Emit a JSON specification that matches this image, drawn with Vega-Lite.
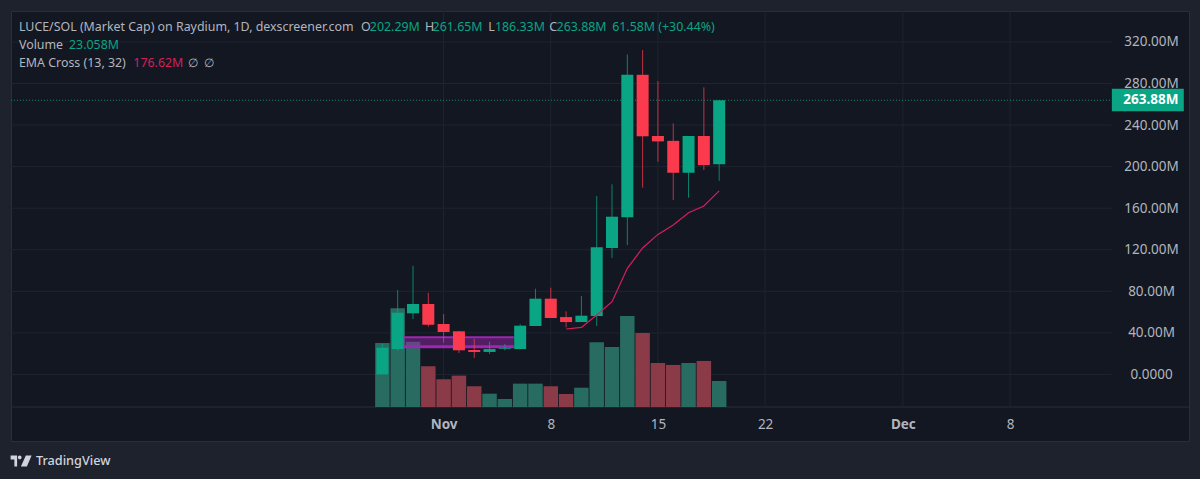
{
  "$schema": "https://vega.github.io/schema/vega-lite/v6.json",
  "width": 1178,
  "height": 430,
  "autosize": {"type": "none"},
  "padding": {"left": 11, "top": 11, "right": 11, "bottom": 38},
  "background": "#1e222d",
  "config": {
    "view": {"fill": "#131722", "stroke": "#2a2e39"},
    "text": {"font": "Noto Sans"}
  },
  "datasets": {
    "candles": [
      {"date": "2024-10-28", "open": 0, "high": 29.3, "low": 0, "close": 25.7, "volume": 56.8, "kind": "up"},
      {"date": "2024-10-29", "open": 24.4, "high": 81.2, "low": 22.5, "close": 59.4, "volume": 87.5, "kind": "up"},
      {"date": "2024-10-30", "open": 58.8, "high": 104.6, "low": 53.3, "close": 67.8, "volume": 57.9, "kind": "up"},
      {"date": "2024-10-31", "open": 67.8, "high": 78.6, "low": 45.9, "close": 47.8, "volume": 36.1, "kind": "down"},
      {"date": "2024-11-01", "open": 48.5, "high": 58.1, "low": 30.5, "close": 40.8, "volume": 24.6, "kind": "down"},
      {"date": "2024-11-02", "open": 41.5, "high": 41.8, "low": 20.6, "close": 23.2, "volume": 27.8, "kind": "down"},
      {"date": "2024-11-03", "open": 23.5, "high": 34.1, "low": 15.8, "close": 21.6, "volume": 18.4, "kind": "down"},
      {"date": "2024-11-04", "open": 21.6, "high": 31.5, "low": 19.6, "close": 24.4, "volume": 11.8, "kind": "up"},
      {"date": "2024-11-05", "open": 24.4, "high": 29.3, "low": 23.2, "close": 25.1, "volume": 7.1, "kind": "up"},
      {"date": "2024-11-06", "open": 24.4, "high": 48.2, "low": 24.4, "close": 46.9, "volume": 20.7, "kind": "up"},
      {"date": "2024-11-07", "open": 46.6, "high": 82.5, "low": 46.6, "close": 72.9, "volume": 20.7, "kind": "up"},
      {"date": "2024-11-08", "open": 72.9, "high": 83.4, "low": 54.3, "close": 54.3, "volume": 18.4, "kind": "down"},
      {"date": "2024-11-09", "open": 55.2, "high": 60.7, "low": 45.3, "close": 50.4, "volume": 11.5, "kind": "down"},
      {"date": "2024-11-10", "open": 50.4, "high": 75.5, "low": 50.4, "close": 56.5, "volume": 17.1, "kind": "up"},
      {"date": "2024-11-11", "open": 56.2, "high": 171.7, "low": 46.6, "close": 122.3, "volume": 57.4, "kind": "up"},
      {"date": "2024-11-12", "open": 121.7, "high": 183, "low": 112, "close": 151.8, "volume": 53.2, "kind": "up"},
      {"date": "2024-11-13", "open": 151.2, "high": 308, "low": 124.5, "close": 288.4, "volume": 80.7, "kind": "up"},
      {"date": "2024-11-14", "open": 288.4, "high": 312.2, "low": 179.7, "close": 229.2, "volume": 65.6, "kind": "down"},
      {"date": "2024-11-15", "open": 229.5, "high": 282.4, "low": 204.7, "close": 224.3, "volume": 39, "kind": "down"},
      {"date": "2024-11-16", "open": 224.8, "high": 241.7, "low": 167.9, "close": 194.1, "volume": 37.3, "kind": "down"},
      {"date": "2024-11-17", "open": 194.1, "high": 229.5, "low": 170.1, "close": 229.5, "volume": 39, "kind": "up"},
      {"date": "2024-11-18", "open": 229.5, "high": 276.3, "low": 196.7, "close": 201.5, "volume": 40.8, "kind": "down"},
      {"date": "2024-11-19", "open": 202.29, "high": 263.88, "low": 186.33, "close": 263.88, "volume": 23.058, "kind": "up"}
    ],
    "ema": [
      {"date": "2024-11-09", "value": 43.7},
      {"date": "2024-11-10", "value": 45.3},
      {"date": "2024-11-11", "value": 57.2},
      {"date": "2024-11-12", "value": 70},
      {"date": "2024-11-13", "value": 102.1},
      {"date": "2024-11-14", "value": 121.7},
      {"date": "2024-11-15", "value": 134.8},
      {"date": "2024-11-16", "value": 143.8},
      {"date": "2024-11-17", "value": 155.6},
      {"date": "2024-11-18", "value": 162.1},
      {"date": "2024-11-19", "value": 176.62}
    ],
    "hgrid": [
      {"date": "2024-10-03T17:46:00Z", "end": "2024-12-14T15:36:00Z", "value": 0},
      {"date": "2024-10-03T17:46:00Z", "end": "2024-12-14T15:36:00Z", "value": 40},
      {"date": "2024-10-03T17:46:00Z", "end": "2024-12-14T15:36:00Z", "value": 80},
      {"date": "2024-10-03T17:46:00Z", "end": "2024-12-14T15:36:00Z", "value": 120},
      {"date": "2024-10-03T17:46:00Z", "end": "2024-12-14T15:36:00Z", "value": 160},
      {"date": "2024-10-03T17:46:00Z", "end": "2024-12-14T15:36:00Z", "value": 200},
      {"date": "2024-10-03T17:46:00Z", "end": "2024-12-14T15:36:00Z", "value": 240},
      {"date": "2024-10-03T17:46:00Z", "end": "2024-12-14T15:36:00Z", "value": 280},
      {"date": "2024-10-03T17:46:00Z", "end": "2024-12-14T15:36:00Z", "value": 320}
    ],
    "vgrid": [
      {"date": "2024-11-01", "bottom": -31.4, "top": 349.8},
      {"date": "2024-11-08", "bottom": -31.4, "top": 349.8},
      {"date": "2024-11-15", "bottom": -31.4, "top": 349.8},
      {"date": "2024-11-22", "bottom": -31.4, "top": 349.8},
      {"date": "2024-12-01", "bottom": -31.4, "top": 349.8},
      {"date": "2024-12-08", "bottom": -31.4, "top": 349.8}
    ],
    "separator": [
      {"date": "2024-10-03T17:46:00Z", "end": "2024-12-19T16:34:00Z", "value": -31.4}
    ],
    "band": [
      {"date": "2024-10-29T09:50:00Z", "end": "2024-11-05T14:10:00Z", "top": 35.7, "bottom": 26.7}
    ],
    "lastPrice": [
      {"date": "2024-10-03T17:46:00Z", "end": "2024-12-14T15:36:00Z", "value": 263.88}
    ],
    "priceTag": [
      {"date": "2024-12-14T15:36:00Z", "end": "2024-12-19T08:24:00Z", "top": 275, "bottom": 253.2}
    ],
    "priceTagText": [
      {"date": "2024-12-17T04:48:00Z", "value": 263.88, "text": "263.88M"}
    ],
    "header": [
      {"date": "2024-10-04T06:14:00Z", "value": 334.4, "kind": "label", "text": "LUCE/SOL (Market Cap) on Raydium, 1D, dexscreener.com"},
      {"date": "2024-10-26T14:24:00Z", "value": 334.4, "kind": "label", "text": "O"},
      {"date": "2024-10-27T04:19:00Z", "value": 334.4, "kind": "up", "text": "202.29M"},
      {"date": "2024-10-30T18:43:00Z", "value": 334.4, "kind": "label", "text": "H"},
      {"date": "2024-10-31T06:43:00Z", "value": 334.4, "kind": "up", "text": "261.65M"},
      {"date": "2024-11-03T21:50:00Z", "value": 334.4, "kind": "label", "text": "L"},
      {"date": "2024-11-04T08:24:00Z", "value": 334.4, "kind": "up", "text": "186.33M"},
      {"date": "2024-11-07T21:36:00Z", "value": 334.4, "kind": "label", "text": "C"},
      {"date": "2024-11-08T09:07:00Z", "value": 334.4, "kind": "up", "text": "263.88M"},
      {"date": "2024-11-12T00:14:00Z", "value": 334.4, "kind": "up", "text": "61.58M (+30.44%)"},
      {"date": "2024-10-04T06:14:00Z", "value": 316.9, "kind": "label", "text": "Volume"},
      {"date": "2024-10-07T12:43:00Z", "value": 316.9, "kind": "up", "text": "23.058M"},
      {"date": "2024-10-04T06:14:00Z", "value": 299.6, "kind": "label", "text": "EMA Cross (13, 32)"},
      {"date": "2024-10-11T17:31:00Z", "value": 299.6, "kind": "ema", "text": "176.62M"},
      {"date": "2024-10-15T07:41:00Z", "value": 299.6, "kind": "label", "text": "∅"},
      {"date": "2024-10-16T08:10:00Z", "value": 299.6, "kind": "label", "text": "∅"}
    ],
    "brand": [
      {"date": "2024-10-05T08:53:00Z", "value": -83.3, "text": "TradingView"}
    ],
    "brandLogo": [
      {"date": "2024-10-04T09:36:00Z", "value": -83.3}
    ]
  },
  "encoding": {
    "x": {
      "field": "date",
      "type": "temporal",
      "scale": {
        "type": "utc",
        "nice": false,
        "padding": 0,
        "domain": [
          {"year": 2024, "month": 10, "date": 3, "hours": 17, "minutes": 46, "utc": true},
          {"year": 2024, "month": 12, "date": 19, "hours": 16, "minutes": 34, "utc": true}
        ]
      },
      "axis": {
        "title": null,
        "orient": "bottom",
        "grid": false,
        "domain": false,
        "ticks": false,
        "labelPadding": -17,
        "labelBaseline": "middle",
        "labelColor": "#b2b5be",
        "labelFont": "Noto Sans",
        "labelFontSize": 13.5,
        "labelFontWeight": {"condition": {"test": "utcdate(datum.value) === 1", "value": "bold"}, "value": "normal"},
        "labelFlush": false,
        "labelOverlap": false,
        "values": [
          {"year": 2024, "month": 11, "date": 1, "utc": true},
          {"year": 2024, "month": 11, "date": 8, "utc": true},
          {"year": 2024, "month": 11, "date": 15, "utc": true},
          {"year": 2024, "month": 11, "date": 22, "utc": true},
          {"year": 2024, "month": 12, "date": 1, "utc": true},
          {"year": 2024, "month": 12, "date": 8, "utc": true}
        ],
        "labelExpr": "utcdate(datum.value) === 1 ? utcFormat(datum.value, '%b') : utcFormat(datum.value, '%-d')"
      }
    }
  },
  "resolve": {"scale": {"y": "independent", "color": "independent"}},
  "layer": [
    {
      "layer": [
        {
          "data": {"name": "hgrid"},
          "mark": {"type": "rule", "color": "#1f2430", "strokeWidth": 1},
          "encoding": {
            "x2": {"field": "end"},
            "y": {"field": "value", "type": "quantitative", "scale": {"domain": [-64.1, 349.8], "nice": false, "zero": false}, "axis": null}
          }
        },
        {
          "data": {"name": "vgrid"},
          "mark": {"type": "rule", "color": "#1f2430", "strokeWidth": 1},
          "encoding": {
            "y": {"field": "bottom", "type": "quantitative"},
            "y2": {"field": "top"}
          }
        },
        {
          "data": {"name": "separator"},
          "mark": {"type": "rule", "color": "#2a2e39", "strokeWidth": 1},
          "encoding": {
            "x2": {"field": "end"},
            "y": {"field": "value", "type": "quantitative"}
          }
        }
      ]
    },
    {
      "data": {"name": "candles"},
      "mark": {"type": "bar", "width": 14.5},
      "encoding": {
        "y": {"field": "volume", "type": "quantitative", "stack": null, "scale": {"domain": [-30.14, 351], "nice": false, "zero": false}, "axis": null},
        "color": {
          "field": "kind",
          "type": "nominal",
          "scale": {"domain": ["up", "down"], "range": ["#286b60", "#8b3a47"]},
          "legend": null
        }
      }
    },
    {
      "layer": [
        {
          "data": {"name": "band"},
          "mark": {"type": "rect", "color": "#9c27b0", "opacity": 0.45},
          "encoding": {
            "x2": {"field": "end"},
            "y": {
              "field": "top",
              "type": "quantitative",
              "scale": {"domain": [-64.1, 349.8], "nice": false, "zero": false},
              "axis": {
                "title": null,
                "orient": "right",
                "grid": false,
                "domain": false,
                "ticks": false,
                "labelPadding": -38,
                "labelAlign": "center",
                "labelColor": "#b2b5be",
                "labelFont": "Noto Sans",
                "labelFontSize": 13.5,
                "labelBound": false,
                "labelFlush": false,
                "labelOverlap": false,
                "values": [0, 40, 80, 120, 160, 200, 240, 280, 320],
                "labelExpr": "datum.value === 0 ? '0.0000' : format(datum.value, '.2f') + 'M'"
              }
            },
            "y2": {"field": "bottom"}
          }
        },
        {
          "data": {"name": "band"},
          "mark": {"type": "rule", "color": "#9c27b0", "strokeWidth": 2},
          "encoding": {
            "x2": {"field": "end"},
            "y": {"field": "top", "type": "quantitative"}
          }
        },
        {
          "data": {"name": "band"},
          "mark": {"type": "rule", "color": "#9c27b0", "strokeWidth": 3},
          "encoding": {
            "x2": {"field": "end"},
            "y": {"field": "bottom", "type": "quantitative"}
          }
        },
        {
          "data": {"name": "lastPrice"},
          "mark": {"type": "rule", "color": "#0aa584", "strokeWidth": 1, "strokeDash": [1, 2], "opacity": 0.8},
          "encoding": {
            "x2": {"field": "end"},
            "y": {"field": "value", "type": "quantitative"}
          }
        },
        {
          "data": {"name": "candles"},
          "mark": {"type": "rule", "strokeWidth": 1, "opacity": 0.75},
          "encoding": {
            "y": {"field": "low", "type": "quantitative"},
            "y2": {"field": "high"},
            "color": {
              "field": "kind",
              "type": "nominal",
              "scale": {"domain": ["up", "down", "ema", "label"], "range": ["#0aa584", "#fb3b4d", "#d81e5b", "#b2b5be"]},
              "legend": null
            }
          }
        },
        {
          "data": {"name": "candles"},
          "mark": {"type": "bar", "width": 12},
          "encoding": {
            "y": {"field": "open", "type": "quantitative"},
            "y2": {"field": "close"},
            "color": {"field": "kind", "type": "nominal"}
          }
        },
        {
          "data": {"name": "ema"},
          "mark": {"type": "line", "color": "#d81e5b", "strokeWidth": 1.2},
          "encoding": {
            "y": {"field": "value", "type": "quantitative"}
          }
        },
        {
          "data": {"name": "priceTag"},
          "mark": {"type": "rect", "color": "#0aa584"},
          "encoding": {
            "x2": {"field": "end"},
            "y": {"field": "top", "type": "quantitative"},
            "y2": {"field": "bottom"}
          }
        },
        {
          "data": {"name": "priceTagText"},
          "mark": {"type": "text", "color": "#ffffff", "fontSize": 13.5, "fontWeight": "bold", "align": "center", "baseline": "middle"},
          "encoding": {
            "y": {"field": "value", "type": "quantitative"},
            "text": {"field": "text"}
          }
        },
        {
          "data": {"name": "header"},
          "mark": {"type": "text", "fontSize": 12.4, "align": "left", "baseline": "middle"},
          "encoding": {
            "y": {"field": "value", "type": "quantitative"},
            "text": {"field": "text"},
            "color": {"field": "kind", "type": "nominal"}
          }
        },
        {
          "data": {"name": "brandLogo"},
          "mark": {
            "type": "point",
            "filled": true,
            "opacity": 1,
            "color": "#d1d4dc",
            "size": 441,
            "shape": "M-1,-.52H-.38V.52H-.64V-.14H-1ZM-.3,-.34A.17,.17 0 1 1 .04,-.34A.17,.17 0 1 1 -.3,-.34ZM.45,-.52H1L.55,.52H-.02Z"
          },
          "encoding": {
            "y": {"field": "value", "type": "quantitative"}
          }
        },
        {
          "data": {"name": "brand"},
          "mark": {"type": "text", "color": "#d1d4dc", "fontSize": 12.7, "fontWeight": 500, "align": "left", "baseline": "middle"},
          "encoding": {
            "y": {"field": "value", "type": "quantitative"},
            "text": {"field": "text"}
          }
        }
      ]
    }
  ]
}
